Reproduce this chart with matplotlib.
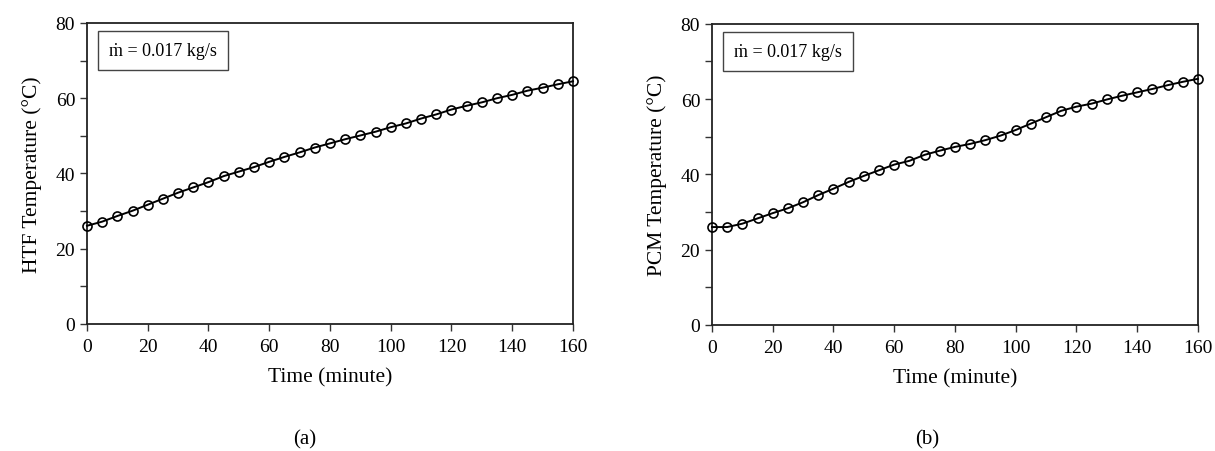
import matplotlib
matplotlib.use("Agg")
import matplotlib.pyplot as plt
from matplotlib.ticker import MultipleLocator

plt.rcParams['font.family'] = ['Liberation Serif', 'DejaVu Serif']

time_min = [0, 5, 10, 15, 20, 25, 30, 35, 40, 45, 50, 55, 60, 65, 70, 75, 80,
            85, 90, 95, 100, 105, 110, 115, 120, 125, 130, 135, 140, 145, 150, 155, 160]
htf_temp = [26.1, 27.2, 28.7, 30.1, 31.7, 33.3, 34.9, 36.3, 37.7, 39.3, 40.5,
            41.7, 43.1, 44.4, 45.6, 46.9, 48.0, 49.1, 50.1, 51.1, 52.3, 53.3,
            54.6, 55.7, 57.0, 58.0, 58.9, 60.0, 60.9, 62.0, 62.8, 63.7, 64.5]
pcm_temp = [26.0, 26.0, 26.9, 28.3, 29.7, 31.0, 32.6, 34.5, 36.2, 38.0, 39.6,
            41.1, 42.6, 43.6, 45.2, 46.3, 47.3, 48.1, 49.1, 50.3, 51.8, 53.5,
            55.2, 56.9, 58.0, 58.8, 59.9, 60.9, 61.8, 62.7, 63.7, 64.6, 65.4]
y_labels = ["HTF Temperature (°C)", "PCM Temperature (°C)"]
panel_labels = ["(a)", "(b)"]
note = "ṁ = 0.017 kg/s"

fig = plt.figure(figsize=(12.15, 4.52), dpi=100)
ax_rects = [[0.0716, 0.281, 0.400, 0.666], [0.586, 0.279, 0.400, 0.666]]
panel_x = [0.251, 0.763]

for rect, temps, ylab, plab, px in zip(ax_rects, [htf_temp, pcm_temp], y_labels, panel_labels, panel_x):
    ax = fig.add_axes(rect)
    ax.plot(time_min, temps, color='black', linewidth=1.4, marker='o',
            markersize=6.5, markerfacecolor='none', markeredgecolor='black',
            markeredgewidth=1.2, clip_on=False, zorder=3)
    ax.set_xlim(0, 160)
    ax.set_ylim(0, 80)
    ax.xaxis.set_major_locator(MultipleLocator(20))
    ax.yaxis.set_major_locator(MultipleLocator(20))
    ax.yaxis.set_minor_locator(MultipleLocator(10))
    ax.tick_params(axis='both', which='both', direction='out', length=5,
                   width=1.0, labelsize=14, color='#333333')
    ax.tick_params(axis='x', pad=5)
    for s in ax.spines.values():
        s.set_linewidth(1.3)
        s.set_color('#222222')
    ax.set_xlabel("Time (minute)", fontsize=15.5, labelpad=9)
    ax.set_ylabel(ylab, fontsize=15.5, labelpad=10)
    ax.text(0.045, 0.909, note, transform=ax.transAxes, fontsize=13,
            va='center', ha='left',
            bbox=dict(boxstyle='square,pad=0.6', facecolor='white',
                      edgecolor='#444444', linewidth=1.0))
    fig.text(px, 0.027, plab, fontsize=15, ha='center', va='center')

fig.savefig("out.png", dpi=100)
